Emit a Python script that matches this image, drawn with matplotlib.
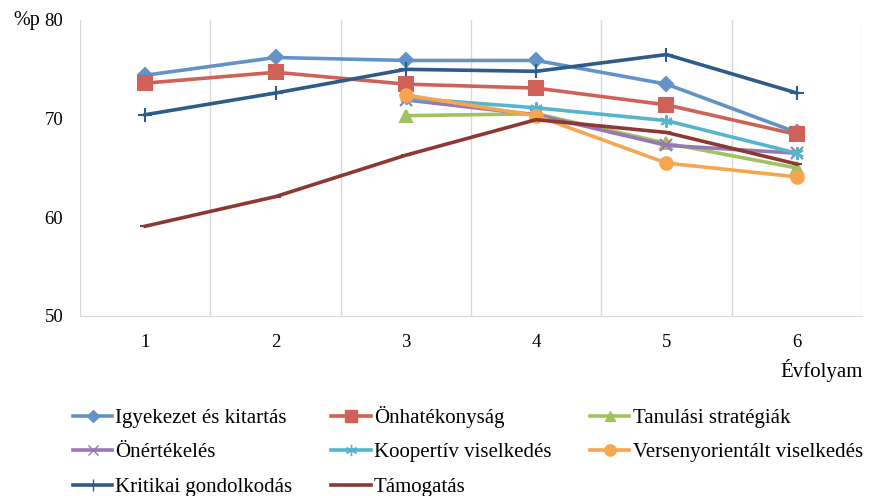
import numpy as np
import matplotlib.pyplot as plt
from matplotlib.lines import Line2D

plt.rcParams['font.family'] = ['Liberation Serif', 'DejaVu Serif']

grades = [1, 2, 3, 4, 5, 6]

igyekezet = [74.4, 76.2, 75.9, 75.9, 73.5, 68.6]
onhatekonysag = [73.6, 74.7, 73.5, 73.1, 71.4, 68.4]
tanulasi = [np.nan, np.nan, 70.3, 70.5, 67.5, 65.0]
onertekeles = [np.nan, np.nan, 71.9, 70.4, 67.3, 66.5]
koopertiv = [np.nan, np.nan, 72.1, 71.1, 69.8, 66.5]
versenyor = [np.nan, np.nan, 72.4, 70.3, 65.5, 64.1]
kritikai = [70.4, 72.6, 75.0, 74.8, 76.5, 72.6]
tamogatas = [59.1, 62.1, 66.3, 69.9, 68.6, 65.4]

names = ['Igyekezet és kitartás', 'Önhatékonyság', 'Tanulási stratégiák',
         'Önértékelés', 'Koopertív viselkedés', 'Versenyorientált viselkedés',
         'Kritikai gondolkodás', 'Támogatás']
series = [igyekezet, onhatekonysag, tanulasi, onertekeles, koopertiv,
          versenyor, kritikai, tamogatas]
colors = ['#6392C8', '#CF6159', '#A2C160', '#9678B4', '#55B5CD', '#F8A550',
          '#2E5B88', '#8C3833']
markers = ['D', 's', '^', 'x', (6, 2, 0), 'o', '+', '_']
msizes = [7, 10, 8, 8, 9, 9, 10, 7]

fig = plt.figure(figsize=(8.76, 4.96), dpi=100)
ax = fig.add_axes([80/876, 1-316/496, (862-80)/876, (316-20)/496])

x = np.array(grades)
for s, c, m, ms in zip(series, colors, markers, msizes):
    ax.plot(x, s, color=c, lw=2.6, marker=m, markersize=ms,
            markeredgecolor=c, markerfacecolor=c, markeredgewidth=1.5)

ax.set_xlim(0.5, 6.5)
ax.set_ylim(50, 80)
ax.set_yticks([50, 60, 70, 80])
ax.set_xticks(grades)
for b in np.arange(0.5, 7, 1):
    ax.axvline(b, color='#D9D9D9', lw=1, zorder=0)
for sp in ['top', 'right', 'left']:
    ax.spines[sp].set_visible(False)
ax.spines['bottom'].set_color('#D9D9D9')
ax.tick_params(axis='both', length=0, labelsize=13.5)
ax.tick_params(axis='y', pad=12)
ax.tick_params(axis='x', pad=13)
fig.text(40/876, 1-20/496, '%p', fontsize=14.5, ha='right', va='center')
fig.text(822/876, 1-370/496, 'Évfolyam', fontsize=15, ha='center', va='center')

handles = [Line2D([], [], color=c, lw=2.6, marker=m, markersize=ms*0.9,
                  markeredgecolor=c, markerfacecolor=c)
           for c, m, ms in zip(colors, markers, msizes)]
# matplotlib fills legend columns first; reorder so rows read left to right
order = [0, 3, 6, 1, 4, 7, 2, 5]
fig.legend([handles[i] for i in order], [names[i] for i in order],
           loc='upper left', bbox_to_anchor=(54/876, 1-387/496),
           ncol=3, frameon=False, fontsize=15, handlelength=1.9,
           handletextpad=0.15, columnspacing=1.85, labelspacing=0.72)

plt.savefig('out.png', dpi=100)
